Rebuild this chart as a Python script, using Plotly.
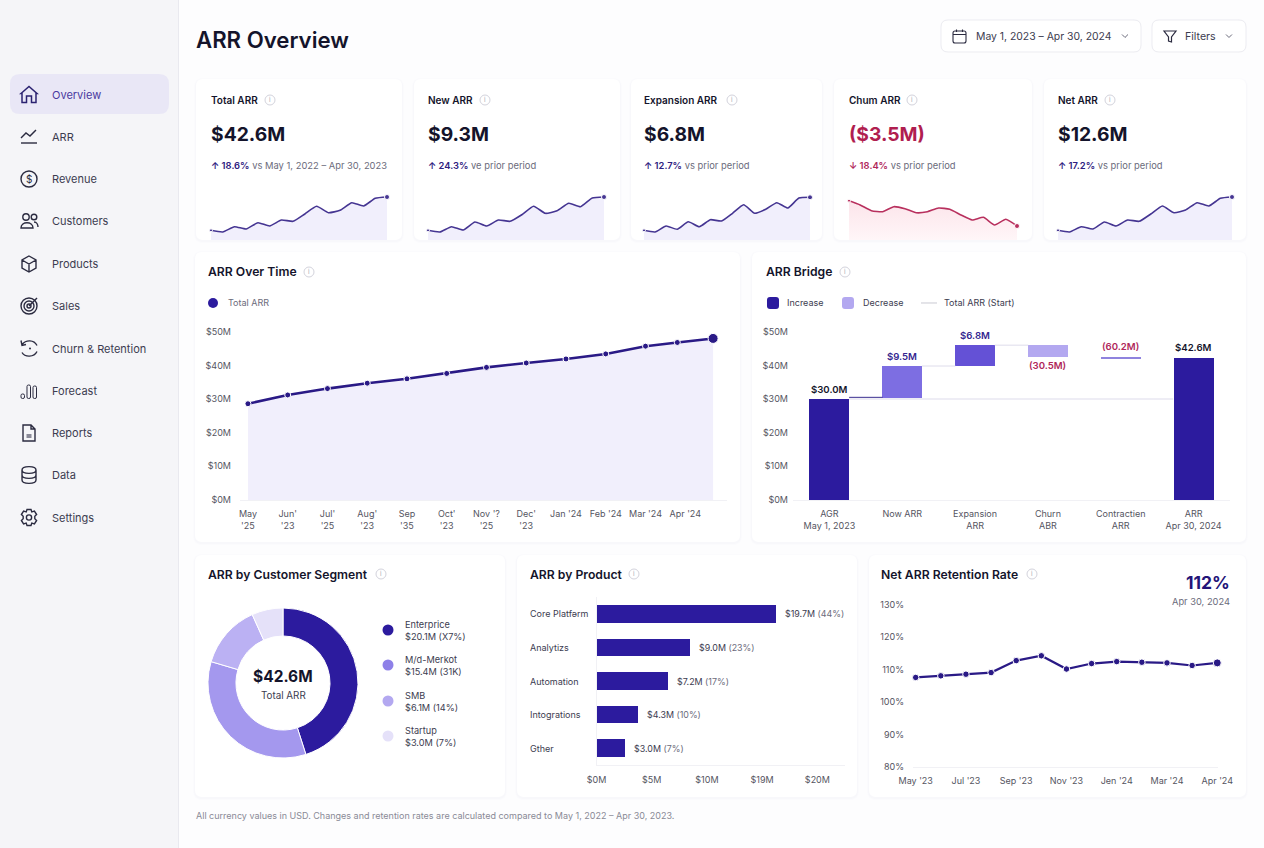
import re
import plotly.graph_objects as go

W, H = 1264, 848

# --- data ---
nav_items = ['Overview', 'ARR', 'Revenue', 'Customers', 'Products', 'Sales', 'Churn & Retention',
             'Forecast', 'Reports', 'Data', 'Settings']

kpi_titles = ['Total ARR', 'New ARR', 'Expansion ARR', 'Chum ARR', 'Net ARR']
kpi_values = ['$42.6M', '$9.3M', '$6.8M', '($3.5M)', '$12.6M']
kpi_deltas = ['↑ 18.6%', '↑ 24.3%', '↑ 12.7%', '↓ 18.4%', '↑ 17.2%']
kpi_notes = ['vs May 1, 2022 – Apr 30, 2023', 've prior period', 'vs prior period', 'vs prior period', 'vs prior period']

spark_total = [9.7, 8, 13.3, 11, 17.3, 14, 20, 18.7, 26, 33.7, 27.3, 29.7, 37.3, 34, 41.7, 43]
spark_new = [9.7, 8, 13.3, 10, 18, 14, 20, 18.7, 25.3, 33.7, 26.7, 29.3, 36.7, 33.3, 42, 43]
spark_expansion = [9.7, 8, 14, 10.7, 18.3, 13.3, 20.3, 19, 26.7, 35.3, 26.7, 30.7, 37.3, 32, 42, 42.7]
spark_churn = [39.3, 35, 29.3, 28.3, 33.3, 31.3, 27.3, 28.3, 32, 30.7, 25, 20, 22.7, 15, 20.7, 14]
spark_net = [9.7, 8, 13.3, 11, 18, 14, 20, 18.7, 26, 34, 27.3, 30, 37.3, 34, 41.7, 43]
spark_series = [spark_total, spark_new, spark_expansion, spark_churn, spark_net]

arr_months = [0, 1, 2, 3, 4, 5, 6, 7, 8, 9, 10, 10.8, 11.7]
arr_total = [28.6, 31.2, 33.1, 34.7, 36.0, 37.6, 39.4, 40.7, 41.9, 43.4, 45.7, 46.8, 48.0]
arr_ticks = ["May<br>'25", "Jun'<br>'23", "Jul'<br>'25", "Aug'<br>'23", "Sep<br>'35", "Oct'<br>'23",
             "Nov '?<br>'25", "Dec'<br>'23", "Jan '24", "Feb '24", "Mar '24", "Apr '24"]
money_ticks = [0, 10, 20, 30, 40, 50]
money_labels = ['$0M', '$10M', '$20M', '$30M', '$40M', '$50M']

bridge_cats = ['AGR<br>May 1, 2023', 'Now ARR', 'Expansion<br>ARR', 'Churn<br>ABR', 'Contractien<br>ARR',
               'ARR<br>Apr 30, 2024']
bridge_base = [0, 30.5, 39.8, 42.6, 42.2, 0]
bridge_size = [30, 9.3, 6.2, 3.4, 0.3, 42.4]
bridge_labels = ['$30.0M', '$9.5M', '$6.8M', '(30.5M)', '(60.2M)', '$42.6M']
bridge_start = 30.0

segment_names = ['Enterprice', 'M/d-Merkot', 'SMB', 'Startup']
segment_values = [20.1, 15.4, 6.1, 3.0]
segment_notes = ['$20.1M (X7%)', '$15.4M (31K)', '$6.1M (14%)', '$3.0M (7%)']

product_names = ['Core Platfərm', 'Analytizs', 'Automation', 'Intogrations', 'Gther']
product_values = [16.2, 8.4, 6.4, 3.7, 2.5]
product_money = ['$19.7M', '$9.0M', '$7.2M', '$4.3M', '$3.0M']
product_share = ['(44%)', '(23%)', '(17%)', '(10%)', '(7%)']
product_ticks = [0, 5, 10, 15, 20]
product_tick_labels = ['$0M', '$5M', '$10M', '$19M', '$20M']

retention_months = list(range(13))
retention_rate = [107.6, 108.1, 108.6, 109.1, 112.8, 114.3, 110.2, 111.9, 112.5, 112.3, 112.1, 111.3, 112.1]
retention_tick_pos = [0, 2, 4, 6, 8, 10, 12]
retention_ticks = ["May '23", "Jul '23", "Sep '23", "Nov '23", "Jen '24", "Mar '24", "Apr '24"]
retention_y = [80, 90, 100, 110, 120, 130]
retention_y_labels = ['80%', '90%', '100%', '110%', '120%', '130%']

# --- colours ---
INK = '#14142B'
BODY = '#3C3C50'
MUTED = '#6B6B7B'
INDIGO = '#2C1B9E'
LINE = '#2A1A86'
AREA = '#F1EFFC'
RED = '#B0275A'
AXIS = '#F1F1F5'
FONT = 'Inter'


def fx(x):
    return x / W


def fy(y):
    return 1 - y / H


shapes = []
annots = []


def path_shape(d, ox=0, oy=0, line=None, width=1.4, fill=None):
    # d is written in pixels, relative to (ox, oy); converted to paper units here
    toks = re.findall(r'[A-Za-z]|-?\d+\.?\d*', d)
    out = []
    is_x = True
    for t in toks:
        if t.isalpha():
            out.append(t)
            is_x = True
        else:
            v = float(t)
            out.append(f'{fx(ox + v):.5f}' if is_x else f'{fy(oy + v):.5f}')
            is_x = not is_x
    shapes.append(dict(type='path', path=' '.join(out), xref='paper', yref='paper', layer='below',
                       line=dict(color=line or 'rgba(0,0,0,0)', width=width if line else 0),
                       fillcolor=fill or 'rgba(0,0,0,0)'))


def rrect(x0, y0, x1, y1, r, fill=None, line=None, width=1):
    d = (f'M{x0 + r} {y0} L{x1 - r} {y0} Q{x1} {y0} {x1} {y0 + r} L{x1} {y1 - r} Q{x1} {y1} {x1 - r} {y1} '
         f'L{x0 + r} {y1} Q{x0} {y1} {x0} {y1 - r} L{x0} {y0 + r} Q{x0} {y0} {x0 + r} {y0} Z')
    path_shape(d, line=line, width=width, fill=fill)


def circ(cx, cy, r, fill=None, line=None, width=1.4):
    shapes.append(dict(type='circle', xref='paper', yref='paper', layer='below',
                       x0=fx(cx - r), x1=fx(cx + r), y0=fy(cy + r), y1=fy(cy - r),
                       line=dict(color=line or 'rgba(0,0,0,0)', width=width if line else 0),
                       fillcolor=fill or 'rgba(0,0,0,0)'))


def txt(x, y, s, size=10, color=BODY, weight=400, anchor='left'):
    if anchor == 'left':
        x -= 1
    annots.append(dict(x=fx(x), y=fy(y), xref='paper', yref='paper', text=s, showarrow=False,
                       xanchor=anchor, yanchor='middle', borderpad=0,
                       font=dict(family=FONT, size=size, color=color, weight=weight)))


def card(x0, y0, x1, y1):
    rrect(x0 - 2, y0 - 1, x1 + 2, y1 + 3, 9, fill='rgba(70,60,130,0.012)')
    rrect(x0 - 1, y0, x1 + 1, y1 + 2, 8, fill='rgba(70,60,130,0.016)')
    rrect(x0, y0, x1, y1, 7, fill='#FFFFFF')


def info(cx, cy):
    circ(cx, cy, 5, line='#D3D3DC', width=1)
    txt(cx, cy, 'i', size=6.5, color='#A8A8B4', anchor='center')


def chart_title(x, y, s, icon_x):
    txt(x, y, s, size=12.2, color=INK, weight=600)
    info(icon_x, y)


# --- sidebar ---
path_shape(f'M0 0 L178 0 L178 {H} L0 {H} Z', fill='#F5F5F8')
path_shape(f'M178.5 0 L178.5 {H}', line='#E9E9EF', width=1)
rrect(10, 74, 169, 114, 10, fill='#E9E7F6')

nav_y = [94.5, 136.5, 179, 221, 264, 306, 348.5, 390.5, 433, 475, 517.5]
for i, (name, y) in enumerate(zip(nav_items, nav_y)):
    txt(52, y, name, size=11, color='#4A3AA0' if i == 0 else BODY)

ICON = '#2B2B40'
path_shape('M-8 -1 L0 -8 L8 -1 L7 -1 L7 8 L2.5 8 L2.5 1.5 L-2.5 1.5 L-2.5 8 L-7 8 L-7 -1 Z', 29, 94.5, line='#2B2270', width=1.5)
path_shape('M-8 2 L-3 -3 L1 0 L7 -6', 29, 136, line=ICON)
path_shape('M-8 7 L8 7', 29, 136, line=ICON)
circ(29, 179, 8, line=ICON)
txt(29, 179, '$', size=10, color=ICON, anchor='center')
circ(26, 217, 3.2, line=ICON)
circ(34, 217, 2.8, line=ICON)
path_shape('M-8 7 C-8 0 4 0 4 7 Z', 29, 221, line=ICON)
path_shape('M5 1 C8 1 9 4 9 6', 29, 221, line=ICON)
path_shape('M0 -8 L7 -4 L7 4 L0 8 L-7 4 L-7 -4 Z M-7 -4 L0 0 L7 -4 M0 0 L0 8', 29, 264, line=ICON)
circ(29, 306, 8, line=ICON)
circ(29, 306, 5, line=ICON)
circ(29, 306, 2, line=ICON)
path_shape('M0 0 L8 -8', 29, 306, line=ICON)
path_shape('M-7 -4 C-3 -9 5 -9 8 -3 M8 3 C5 9 -4 9 -7 4 M-8 -8 L-7 -3 L-3 -4', 29, 348.5, line=ICON)
circ(30, 348.5, 1, fill=ICON)
for x0, y0 in [(-8, 3), (-2, -6), (4, -5)]:
    rrect(29 + x0, 391 + y0, 29 + x0 + 3.5, 398.5, 1.5, line=ICON)
path_shape('M-6 -8 L2 -8 L6 -4 L6 8 L-6 8 Z M2 -8 L2 -4 L6 -4', 29, 433, line=ICON)
path_shape('M-2.5 1 L2.5 1 L2.5 5 L-2.5 5 Z', 29, 433, fill='#8A8A98')
path_shape('M-7 -5 C-7 -9.5 7 -9.5 7 -5 C7 -0.5 -7 -0.5 -7 -5 M-7 -5 L-7 5 C-7 9.5 7 9.5 7 5 L7 -5 M-7 0 C-7 4.5 7 4.5 7 0', 29, 475, line=ICON)
path_shape('M-2 -8 L2 -8 L2.8 -5.6 L5.4 -6.4 L7.6 -3 L5.8 -1.2 L5.8 1.2 L7.6 3 L5.4 6.4 L2.8 5.6 L2 8 L-2 8 L-2.8 5.6 '
           'L-5.4 6.4 L-7.6 3 L-5.8 1.2 L-5.8 -1.2 L-7.6 -3 L-5.4 -6.4 L-2.8 -5.6 Z', 29, 517.5, line=ICON)
circ(29, 517.5, 2.6, line=ICON)

# --- header ---
txt(196, 39, 'ARR Overview', size=22.2, color=INK, weight=600)
rrect(941, 20, 1141, 52, 7, fill='#FFFFFF', line='#ECECF1')
rrect(1152, 20, 1246, 52, 7, fill='#FFFFFF', line='#ECECF1')
rrect(953, 31, 966, 43, 2, line=ICON, width=1.1)
path_shape('M953 34.5 L966 34.5 M956.5 29.5 L956.5 32 M962.5 29.5 L962.5 32', line=ICON, width=1.1)
txt(976, 36, 'May 1, 2023 – Apr 30, 2024', size=10.4, color=BODY)
path_shape('M-3 -1.5 L0 1.5 L3 -1.5', 1125, 36, line=MUTED, width=1)
path_shape('M-6 -5 L6 -5 L1.5 1 L1.5 6 L-1.5 5 L-1.5 1 Z', 1170, 36, line=ICON, width=1.2)
txt(1185, 36, 'Filters', size=10.6, color=BODY)
path_shape('M-3 -1.5 L0 1.5 L3 -1.5', 1229, 36, line=MUTED, width=1)

txt(196, 815, 'All currency values in USD. Changes and retention rates are calculated compared to May 1, 2022 – Apr 30, 2023.',
    size=9, color='#8A8A96')

# --- cards ---
kpi_boxes = [(196, 402), (414, 620), (631, 822), (834, 1032), (1044, 1246)]
kpi_text_x = [211, 428, 644, 849, 1058]
kpi_spark_x = [(211, 387), (428, 604), (644, 810), (849, 1017), (1058, 1232)]
kpi_icons = [270, 485, 732, 912, 1110]
for b in kpi_boxes:
    card(b[0], 79, b[1], 240)
card(195, 252, 740, 542)
card(752, 252, 1246, 542)
card(195, 555, 505, 797)
card(517, 555, 857, 797)
card(869, 555, 1246, 797)

fig = go.Figure()


def axis_pair(n, x0, x1, y0, y1, xopts, yopts):
    base = dict(showgrid=False, zeroline=False, fixedrange=True, ticks='', showline=False, automargin=False)
    xo = dict(base, domain=[fx(x0), fx(x1)], anchor=f'y{n}')
    yo = dict(base, domain=[fy(y1), fy(y0)], anchor=f'x{n}')
    xo.update(xopts)
    yo.update(yopts)
    fig.update_layout(**{f'xaxis{n}': xo, f'yaxis{n}': yo})


tick_font = dict(family=FONT, size=9, color='#55555F')

# KPI cards with sparklines
for i, vals in enumerate(spark_series):
    n = i + 1
    red = kpi_titles[i].startswith('Chum')
    tx = kpi_text_x[i]
    col = RED if red else '#2E2080'
    txt(tx, 100, kpi_titles[i], size=10, color=INK, weight=600)
    info(kpi_icons[i], 100)
    txt(tx, 134, kpi_values[i], size=19.3, color='#B01E50' if red else INK, weight=700)
    txt(tx, 165.5, f'<span style="color:{col};font-weight:600">{kpi_deltas[i]}</span>'
                   f'<span style="color:{MUTED}"> {kpi_notes[i]}</span>', size=9.4)
    axis_pair(n, kpi_spark_x[i][0], kpi_spark_x[i][1], 190, 240,
              dict(visible=False, range=[0, 15]), dict(visible=False, range=[0, 50]))
    sizes = [3] + [0] * (len(vals) - 2) + [5]
    lc = '#B8305E' if red else '#453592'
    tr = dict(x=list(range(len(vals))), y=vals, mode='lines+markers', xaxis=f'x{n}', yaxis=f'y{n}',
              line=dict(color=lc, width=1.6, shape='spline', smoothing=0.5),
              marker=dict(size=sizes, color=lc, opacity=1),
              fill='tozeroy', cliponaxis=False, showlegend=False)
    if red:
        tr['fillgradient'] = dict(type='vertical', colorscale=[[0, '#FFF6F8'], [1, '#FCE4EA']])
    else:
        tr['fillcolor'] = AREA
    fig.add_trace(go.Scatter(**tr))

# ARR Over Time
chart_title(207.5, 272, 'ARR Over Time', 309)
circ(213, 303, 5, fill=INDIGO)
txt(228, 303, 'Total ARR', size=9, color=MUTED)
axis_pair(6, 240, 727, 331.7, 500,
          dict(range=[-0.2, 12.05], tickmode='array', tickvals=list(range(12)), ticktext=arr_ticks,
               tickfont=tick_font, showline=True, linecolor=AXIS, ticklabelstandoff=5),
          dict(range=[0, 50], tickmode='array', tickvals=money_ticks, ticktext=money_labels,
               tickfont=tick_font, ticklabelstandoff=8))
fig.add_trace(go.Scatter(x=arr_months, y=arr_total, mode='lines+markers', xaxis='x6', yaxis='y6',
                         line=dict(color=LINE, width=2.6), fill='tozeroy', fillcolor=AREA,
                         marker=dict(size=[6] * (len(arr_total) - 1) + [10], color=LINE, opacity=1),
                         cliponaxis=False, showlegend=False))

# ARR Bridge
chart_title(766, 272, 'ARR Bridge', 845)
rrect(767, 297, 779, 309, 3, fill=INDIGO)
txt(787, 303, 'Increase', size=9, color=BODY)
rrect(842, 297, 854, 309, 3, fill='#B3A8F0')
txt(863, 303, 'Decrease', size=9, color=BODY)
path_shape('M921 303 L937 303', line='#C9C9D2', width=1)
txt(944, 303, 'Total ARR (Start)', size=9, color=BODY)
idx = list(range(len(bridge_cats)))
axis_pair(7, 793, 1230, 331.7, 500,
          dict(range=[-0.5, 5.5], tickmode='array', tickvals=idx, ticktext=bridge_cats,
               tickfont=tick_font, showline=True, linecolor=AXIS, ticklabelstandoff=5),
          dict(range=[0, 50], tickmode='array', tickvals=money_ticks, ticktext=money_labels,
               tickfont=tick_font, ticklabelstandoff=4))
fig.add_trace(go.Bar(x=idx, y=bridge_size, base=bridge_base, xaxis='x7', yaxis='y7', width=0.548,
                     marker=dict(color=[INDIGO, '#7D6EE2', '#6451D6', '#B3A8F0', '#8F83DE', INDIGO], line_width=0),
                     showlegend=False))
# start level and connectors
fig.add_trace(go.Scatter(x=[0.27, 4.72], y=[bridge_start, bridge_start], mode='lines', xaxis='x7', yaxis='y7',
                         line=dict(color='#DEDCEB', width=1.2), showlegend=False))
for k, lvl, col in [(0, bridge_base[1], '#3A2E90'),
                    (1, bridge_base[2], '#DEDCEB'),
                    (2, bridge_base[3] + bridge_size[3], '#DEDCEB')]:
    fig.add_trace(go.Scatter(x=[k + 0.27, k + 0.73], y=[lvl, lvl], mode='lines', xaxis='x7', yaxis='y7',
                             line=dict(color=col, width=1), showlegend=False))
label_cols = [INK, '#35268F', '#35268F', RED, RED, INK]
for k in idx:
    below = bridge_labels[k] == '(30.5M)'
    lvl = bridge_base[k] if below else bridge_base[k] + bridge_size[k]
    annots.append(dict(x=k, y=lvl, xref='x7', yref='y7', text=bridge_labels[k], showarrow=False, yanchor='middle',
                       yshift=-9 if below else 10, borderpad=0,
                       font=dict(family=FONT, size=9.6, color=label_cols[k], weight=600)))

# ARR by Customer Segment
chart_title(208, 574, 'ARR by Customer Segment', 381)
seg_cols = [INDIGO, '#A498EE', '#BBB1F3', '#E5E1F9']
dot_cols = [INDIGO, '#8E80E8', '#B3A8F0', '#E5E1F9']
fig.add_trace(go.Pie(values=segment_values, labels=segment_names, hole=0.627, sort=False, direction='clockwise',
                     rotation=0, textinfo='none', showlegend=False,
                     marker=dict(colors=seg_cols, line=dict(color='#FFFFFF', width=1)),
                     domain=dict(x=[fx(208), fx(358)], y=[fy(758), fy(608)])))
txt(283, 676, '$42.6M', size=15.5, color=INK, weight=700, anchor='center')
txt(283, 695, 'Total ARR', size=9.8, color=BODY, anchor='center')
for name, note, col, y in zip(segment_names, segment_notes, dot_cols, [630, 665, 701, 736]):
    circ(388, y, 5.5, fill=col)
    txt(405, y - 6, name, size=9.2, color=BODY)
    txt(405, y + 6, note, size=9.2, color=BODY)

# ARR by Product
chart_title(530, 574, 'ARR by Product', 634)
axis_pair(8, 596.5, 845, 597, 765,
          dict(range=[0, 22.5], tickmode='array', tickvals=product_ticks, ticktext=product_tick_labels,
               tickfont=tick_font, showline=True, linecolor=AXIS, ticklabelstandoff=6),
          dict(type='category', autorange='reversed', showticklabels=False, showline=True, linecolor=AXIS))
fig.add_trace(go.Bar(x=product_values, y=product_names, orientation='h', xaxis='x8', yaxis='y8', width=0.527,
                     marker=dict(color=INDIGO, line_width=0), showlegend=False))
for name, v, money, share in zip(product_names, product_values, product_money, product_share):
    annots.append(dict(x=fx(529), xref='paper', y=name, yref='y8', text=name, showarrow=False, xanchor='left',
                       borderpad=0, font=dict(family=FONT, size=9, color=BODY)))
    annots.append(dict(x=v, xref='x8', y=name, yref='y8', showarrow=False, xanchor='left', xshift=8.5, borderpad=0,
                       text=f'{money} <span style="color:{MUTED}">{share}</span>',
                       font=dict(family=FONT, size=8.9, color=BODY)))

# Net ARR Retention Rate
chart_title(881, 574, 'Net ARR Retention Rate', 1032)
txt(1231, 582, '112%', size=17.5, color='#231478', weight=700, anchor='right')
txt(1231, 601, 'Apr 30, 2024', size=9.3, color=MUTED, anchor='right')
axis_pair(9, 913, 1218, 605, 766.7,
          dict(range=[-0.107, 12.03], tickmode='array', tickvals=retention_tick_pos, ticktext=retention_ticks,
               tickfont=tick_font, showline=True, linecolor=AXIS, ticklabelstandoff=5),
          dict(range=[80, 130], tickmode='array', tickvals=retention_y, ticktext=retention_y_labels,
               tickfont=tick_font, ticklabelstandoff=8))
fig.add_trace(go.Scatter(x=retention_months, y=retention_rate, mode='lines+markers', xaxis='x9', yaxis='y9',
                         line=dict(color=LINE, width=2.2),
                         marker=dict(size=[6.5] * (len(retention_rate) - 1) + [8], color=LINE, opacity=1),
                         cliponaxis=False, showlegend=False))

fig.update_layout(width=W, height=H, autosize=False, margin=dict(l=0, r=0, t=0, b=0),
                  paper_bgcolor='#FDFDFE', plot_bgcolor='rgba(0,0,0,0)', showlegend=False,
                  font=dict(family=FONT), shapes=shapes, annotations=annots, bargap=0)

fig.write_html("out.html", config={'displayModeBar': False},
               post_script="document.body.style.margin='0';document.documentElement.style.overflow='hidden';")
